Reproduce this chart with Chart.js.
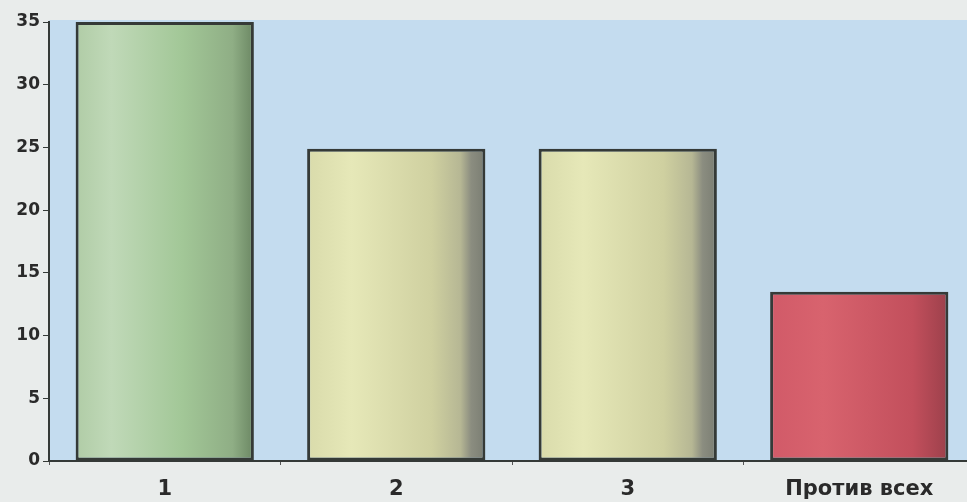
<!DOCTYPE html>
<html>
<head>
<meta charset="utf-8">
<script src="https://cdn.jsdelivr.net/npm/chart.js@4.4.0/dist/chart.umd.min.js"></script>
<style>
  html, body { margin:0; padding:0; background:#e9eceb; overflow:hidden; }
  #wrap { width:975px; height:502px; }
</style>
</head>
<body>
<div id="wrap"><canvas id="c" width="975" height="502"></canvas></div>
<script>
// ---------- Datos ----------
const categories = ["1", "2", "3", "Против всех"];
const values = [35, 24.9, 24.9, 13.5];
const yTicks = [0, 5, 10, 15, 20, 25, 30, 35];

// gradientes por barra: [posición, color]
const greenStops = [[0, "#b0cca6"], [0.2, "#c0d9b8"], [0.6, "#a2c797"], [0.88, "#8fae85"], [1, "#6b8763"]];
const yellowStops = [[0, "#d9dbab"], [0.25, "#e6e8b8"], [0.7, "#cfd0a0"], [0.86, "#b6b794"], [0.92, "#8b8d80"], [1, "#7a7d72"]];
const redStops = [[0, "#d15a68"], [0.3, "#d8636e"], [0.8, "#c24f5c"], [1, "#9c404b"]];
const barStops = [greenStops, yellowStops, yellowStops, redStops];
const BAR_PCT = 0.77;

function barGradient(ctx) {
  const chart = ctx.chart;
  const i = ctx.dataIndex;
  const stops = barStops[i] || greenStops;
  const x = chart.scales && chart.scales.x;
  if (!chart.chartArea || !x) return stops[1][1];
  const cx = x.getPixelForValue(i);
  const half = (x.width / categories.length) * BAR_PCT / 2;
  const g = chart.ctx.createLinearGradient(cx - half, 0, cx + half, 0);
  stops.forEach(s => g.addColorStop(s[0], s[1]));
  return g;
}

// fondo azul del área del gráfico
const plotBg = {
  id: "plotBg",
  beforeDraw(chart) {
    const { ctx, chartArea: a } = chart;
    ctx.save();
    ctx.fillStyle = "#c4dcef";
    ctx.fillRect(a.left, a.top - 2, a.right - a.left, a.bottom - a.top + 2);
    ctx.restore();
  }
};

new Chart(document.getElementById("c"), {
  type: "bar",
  data: {
    labels: categories,
    datasets: [{
      data: values,
      backgroundColor: barGradient,
      borderColor: "#353a37",
      borderWidth: 3,
      borderSkipped: false,
      barPercentage: BAR_PCT,
      categoryPercentage: 1
    }]
  },
  options: {
    responsive: false,
    animation: false,
    layout: { padding: { top: 22, right: 0, left: 0, bottom: 0 } },
    plugins: { legend: { display: false }, tooltip: { enabled: false } },
    scales: {
      x: {
        offset: true,
        border: { display: true, color: "#353a37", width: 2 },
        grid: { display: true, drawOnChartArea: false, drawTicks: true, tickLength: 4, color: "#555", offset: true },
        ticks: { color: "#2a2a2a", padding: 12, font: { family: "DejaVu Sans", size: 21, weight: "bold" } },
        afterFit: s => { s.height = 41; }
      },
      y: {
        min: 0, max: 35,
        afterBuildTicks: s => { s.ticks = yTicks.map(v => ({ value: v })); },
        border: { display: true, color: "#353a37", width: 2 },
        grid: { display: true, drawOnChartArea: false, tickLength: 6, color: "#353a37" },
        ticks: { color: "#2a2a2a", padding: 3, font: { family: "DejaVu Sans", size: 17, weight: "bold" } },
        afterFit: s => { s.width = 49; }
      }
    }
  },
  plugins: [plotBg]
});
</script>
</body>
</html>
